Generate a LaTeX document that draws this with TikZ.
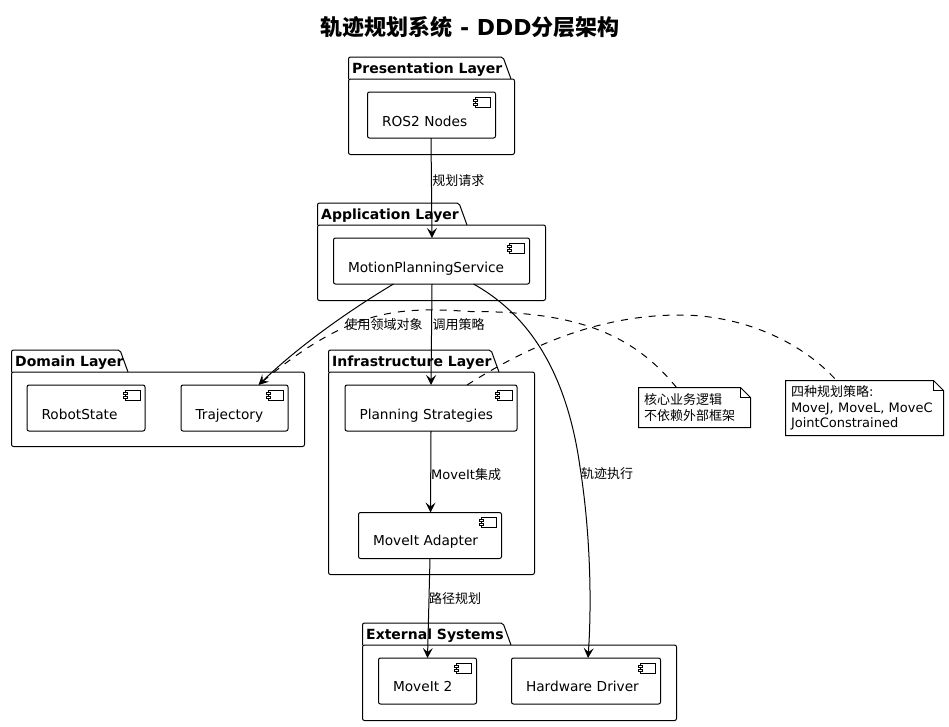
\documentclass[tikz,border=0pt]{standalone}
\usepackage{fontspec}
\setmainfont{DejaVu Sans}
\newfontfamily\cjk{Noto Sans CJK SC}
\usetikzlibrary{arrows.meta}
\newcommand{\zh}[1]{{\cjk #1}}

\tikzset{
    compbox/.style={draw, rounded corners=2pt, anchor=north west, outer sep=0pt, inner xsep=14.5pt, inner ysep=0pt,
        text height=34pt, text depth=12pt, font=\fontsize{13.7}{16}\selectfont},
    lowbox/.style={compbox, text height=33pt, text depth=13pt},
    layertitle/.style={anchor=base west, inner sep=0pt, font=\fontsize{14}{16}\selectfont\bfseries},
    layerline/.style={rounded corners=2pt},
    flow/.style={-{Stealth[length=10pt,width=10pt,inset=4pt]}},
    notelink/.style={dash pattern=on 7pt off 7pt},
    edgelabel/.style={anchor=west, inner sep=0pt, font=\fontsize{13}{15}\selectfont},
    notebox/.style={anchor=north west, outer sep=0pt, inner xsep=5.5pt, inner ysep=0pt, align=left, font=\fontsize{13}{15.2}\selectfont}
}

% x1, top, x2, bottom, end of tab, name, title
\newcommand{\layerbox}[7]{
    \draw[layerline] (#1, #2+22) -- (#1, #2) -- (#5, #2) -- (#5+8, #2+22);
    \draw[layerline] (#1, #2+22) -- (#3, #2+22) -- (#3, #4) -- (#1, #4) -- cycle;
    \node[layertitle] (#6) at (#1+3.2, #2+16) {#7};
}

\begin{document}
\begin{tikzpicture}[x=1pt, y=-1pt, line width=1pt]
    \useasboundingbox (0, 0) rectangle (949, 726);

    \node[font=\fontsize{22}{26}\selectfont\bfseries] (title) at (470, 27.5) {\zh{轨迹规划系统} - DDD\zh{分层架构}};

    % Layers
    \layerbox{348.5}{57}{514.5}{154.5}{503}{presentation}{Presentation Layer}
    \layerbox{317.5}{203}{545.5}{300.5}{459}{application}{Application Layer}
    \layerbox{11.5}{350}{304.5}{446.5}{120}{domain}{Domain Layer}
    \layerbox{328.5}{350}{534.5}{574.5}{491}{infrastructure}{Infrastructure Layer}
    \layerbox{362.5}{623}{676.5}{720.5}{503}{external}{External Systems}

    % Components
    \node[compbox, text width=99pt] (ros) at (367.5, 92) {ROS2 Nodes};
    \node[compbox, text width=167pt] (motion) at (333.5, 238) {MotionPlanningService};
    \node[compbox, text width=89pt] (robot) at (27, 385) {RobotState};
    \node[compbox, text width=78pt] (trajectory) at (181, 385) {Trajectory};
    \node[compbox, text width=143pt] (strategies) at (345, 385) {Planning Strategies};
    \node[lowbox, text width=114pt] (adapter) at (358.5, 512.5) {MoveIt Adapter};
    \node[lowbox, text width=69pt] (moveit) at (378.5, 658) {MoveIt 2};
    \node[lowbox, text width=120pt] (driver) at (511.5, 658) {Hardware Driver};

    % Component icons
    \foreach \c in {ros,motion,robot,trajectory,strategies,adapter,moveit,driver} {
        \draw ([shift={(-20, 5)}]\c.north east) rectangle ++(15, 10);
        \draw[fill=white] ([shift={(-22, 7)}]\c.north east) rectangle ++(4, 2);
        \draw[fill=white] ([shift={(-22, 11)}]\c.north east) rectangle ++(4, 2);
    }

    % Notes
    \node[notebox, minimum width=112pt, minimum height=40pt, text width=101pt, yshift=-0.5pt] (corenote) at (638.5, 387)
        {\zh{核心业务逻辑}\\\zh{不依赖外部框架}};
    \node[notebox, minimum width=158pt, minimum height=55pt, text width=147pt, yshift=-0.5pt] (strategynote) at (785.5, 380)
        {\zh{四种规划策略}:\\MoveJ, MoveL, MoveC\\JointConstrained};
    \foreach \n in {corenote,strategynote} {
        \draw (\n.north west) -- ([xshift=-10pt]\n.north east) -- ([yshift=-10pt]\n.north east)
            -- (\n.south east) -- (\n.south west) -- cycle;
        \draw ([xshift=-10pt]\n.north east) -- ([shift={(-10, 10)}]\n.north east) -- ([yshift=-10pt]\n.north east);
    }

    % Note links
    \draw[notelink] ([xshift=-18pt]corenote.north) .. controls (630, 330) and (570, 311.5) .. (470, 311.5)
        .. controls (400, 307) and (350, 307) .. ([xshift=24pt]trajectory.north);
    \draw[notelink] ([xshift=36pt]strategies.north) .. controls (530, 345) and (600, 315) .. (680, 315)
        .. controls (740, 315) and (800, 340) .. ([xshift=-28pt]strategynote.north);

    % Flows
    \draw[flow] ([xshift=-0.5pt]ros.south) -- node[edgelabel, pos=0.43, xshift=0.5pt, anchor=west] (request) {\zh{规划请求}} ([xshift=0.5pt]motion.north);
    \draw[flow] ([xshift=0.5pt]motion.south) -- node[edgelabel, pos=0.4, xshift=0.5pt, anchor=west] (invoke) {\zh{调用策略}} (strategies.north);
    \draw[flow] (strategies.south) -- node[edgelabel, pos=0.53, anchor=west] (integrate) {MoveIt\zh{集成}} ([xshift=0.5pt]adapter.north);
    \draw[flow] (adapter.south) -- node[edgelabel, pos=0.4, xshift=-0.5pt, anchor=west] (pathplan) {\zh{路径规划}} (moveit.north);
    \draw[flow] ([xshift=-38pt]motion.south) .. controls (350, 310) and (300, 345) .. ([xshift=24pt]trajectory.north);
    \draw[flow] ([xshift=42pt]motion.south) .. controls (520, 310) and (565, 360) .. (580, 467)
        .. controls (590, 530) and (592, 600) .. ([xshift=2pt]driver.north);

    \node[edgelabel] (usedomain) at (344, 325) {\zh{使用领域对象}};
    \node[edgelabel] (execute) at (580.5, 474) {\zh{轨迹执行}};
\end{tikzpicture}
\end{document}
